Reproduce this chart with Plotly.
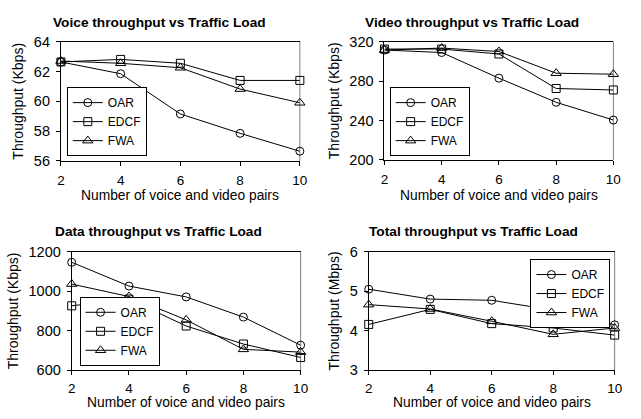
import plotly.graph_objects as go

# ---------------- data ----------------
pairs = [2, 4, 6, 8, 10]
series_names = ["OAR", "EDCF", "FWA"]

voice_oar = [62.64, 61.85, 59.15, 57.85, 56.65]
voice_edcf = [62.64, 62.81, 62.55, 61.4, 61.4]
voice_fwa = [62.7, 62.55, 62.25, 60.82, 59.9]

video_oar = [311.5, 309.0, 283.0, 258.5, 240.5]
video_edcf = [312.5, 312.5, 307.5, 272.5, 271.0]
video_fwa = [311.5, 313.5, 310.0, 288.0, 287.0]

data_oar = [1146, 1026, 971, 869, 727]
data_edcf = [926, 960, 824, 733, 665]
data_fwa = [1036, 973, 855, 706, 692]

total_oar = [5.05, 4.80, 4.77, 4.52, 4.15]
total_edcf = [4.16, 4.54, 4.18, 4.07, 3.89]
total_fwa = [4.66, 4.55, 4.24, 3.91, 4.07]

panel_titles = ["Voice throughput vs Traffic Load", "Video throughput vs Traffic Load",
                "Data throughput vs Traffic Load", "Total throughput vs Traffic Load"]
y_titles = ["Throughput (Kbps)", "Throughput (Kbps)", "Throughput (Kbps)", "Throughput (Mbps)"]
x_title = "Number of voice and video pairs"
y_ranges = [[56, 64], [200, 320], [600, 1200], [3, 6]]
y_dticks = [2, 40, 200, 1]

# ---------------- layout ----------------
W, H = 641, 419
FONT = "Liberation Sans, Arial, sans-serif"

def px_x(v):
    return v / W

def px_y(v):
    return 1 - v / H

# plot-area pixel boxes (left, right, top, bottom)
boxes = [(58, 301.5, 35, 159), (387.7, 621, 35, 158), (69, 302.3, 253.3, 376.7), (371.7, 622.3, 253.3, 376.7)]
title_pos = [(158, 15), (477, 15), (157.5, 232.7), (478, 232.7)]
xtitle_bottom = [203.5, 203.5, 419, 419]
xtick_standoff = [3, 3, 1, 1]
legend_pos = [
    dict(x=px_x(64), y=px_y(154), xanchor="left", yanchor="bottom"),
    dict(x=px_x(393), y=px_y(154), xanchor="left", yanchor="bottom"),
    dict(x=px_x(77), y=px_y(372), xanchor="left", yanchor="bottom"),
    dict(x=px_x(618), y=px_y(261), xanchor="right", yanchor="top"),
]

all_series = [
    (voice_oar, voice_edcf, voice_fwa),
    (video_oar, video_edcf, video_fwa),
    (data_oar, data_edcf, data_fwa),
    (total_oar, total_edcf, total_fwa),
]
symbols = ["circle-open", "square-open", "triangle-up-open"]
msizes = [8, 8, 9]

fig = go.Figure()
layout = dict(
    width=W, height=H, margin=dict(l=0, r=0, t=0, b=0),
    paper_bgcolor="white", plot_bgcolor="white",
    font=dict(family=FONT, color="black", size=13),
    annotations=[], shapes=[],
)

for i in range(4):
    axn = "" if i == 0 else str(i + 1)
    xa, ya = "x" + axn, "y" + axn
    leg = "legend" if i == 0 else "legend" + str(i + 1)
    for s, name in enumerate(series_names):
        fig.add_trace(go.Scatter(
            x=pairs, y=all_series[i][s], name=name, mode="lines+markers",
            xaxis=xa, yaxis=ya, legend=leg, cliponaxis=False,
            line=dict(color="black", width=1),
            marker=dict(symbol=symbols[s], size=msizes[s], color="black",
                        line=dict(color="black", width=1)),
        ))
    l, r, t, b = boxes[i]
    layout["xaxis" + axn] = dict(
        domain=[px_x(l), px_x(r)], anchor=ya, range=[2, 10],
        tickvals=pairs, ticks="outside", ticklen=4, tickcolor="black",
        showline=True, linecolor="black", linewidth=1, mirror=True,
        showgrid=False, zeroline=False,
        tickfont=dict(size=13.5, family=FONT), ticklabelstandoff=xtick_standoff[i],
    )
    layout["yaxis" + axn] = dict(
        domain=[px_y(b), px_y(t)], anchor=xa, range=y_ranges[i], dtick=y_dticks[i],
        ticks="outside", ticklen=4, tickcolor="black",
        showline=True, linecolor="black", linewidth=1,
        showgrid=False, zeroline=False,
        tickfont=dict(size=14.5, family=FONT), ticklabelstandoff=3,
        title=dict(text=y_titles[i], font=dict(size=14, family=FONT), standoff=6),
    )
    layout["shapes"].append(dict(
        type="line", xref=xa + " domain", yref=ya + " domain",
        x0=1, x1=1, y0=0, y1=1, line=dict(color="#808080", width=1), layer="below"))
    tx, ty = title_pos[i]
    layout["annotations"].append(dict(
        text="<b>" + panel_titles[i] + "</b>", x=px_x(tx), y=px_y(ty), xref="paper", yref="paper",
        xanchor="center", yanchor="middle", showarrow=False,
        font=dict(size=13.7, family=FONT, color="black")))
    layout["annotations"].append(dict(
        text=x_title, x=px_x((l + r) / 2), y=px_y(xtitle_bottom[i]), xref="paper", yref="paper",
        xanchor="center", yanchor="bottom", showarrow=False, borderpad=0,
        font=dict(size=13.8, family=FONT, color="black")))
    layout[leg] = dict(
        **legend_pos[i], bgcolor="white", bordercolor="black", borderwidth=1,
        font=dict(size=12, family=FONT), itemwidth=30, tracegroupgap=0,
    )

fig.update_layout(**layout)
fig.write_html("out.html", config={"displayModeBar": False},
               post_script="document.body.style.margin='0';")
